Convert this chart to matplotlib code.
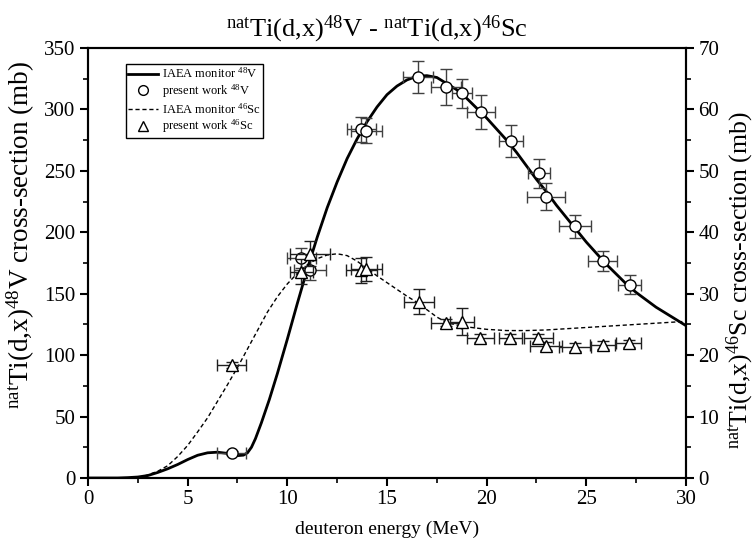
import numpy as np
import matplotlib
matplotlib.use("Agg")
from matplotlib import pyplot as plt
from matplotlib.lines import Line2D
from matplotlib.ticker import MultipleLocator

plt.rcParams['font.family'] = ['Liberation Serif', 'DejaVu Serif']
plt.rcParams['mathtext.fontset'] = 'custom'
plt.rcParams['mathtext.rm'] = 'Liberation Serif'
plt.rcParams['mathtext.it'] = 'Liberation Serif:italic'

# IAEA monitor curve natTi(d,x)48V (mb)
v48_curve_e = [0, 1.5, 2.0, 2.5, 3.0, 3.5, 4.0, 4.5, 5.0, 5.5, 6.0, 6.5, 7.0, 7.5, 7.8,
               8.0, 8.2, 8.4, 8.7, 9.1, 9.5, 10.0, 10.5, 11.0, 11.5, 12.0, 12.5, 13.0,
               13.5, 14.0, 14.5, 15.0, 15.5, 16.0, 16.5, 17.0, 17.5, 18.0, 18.5, 19.0,
               19.5, 20.0, 20.5, 21.0, 21.5, 22.0, 22.5, 23.0, 23.5, 24.0, 24.5, 25.0,
               25.5, 26.0, 26.5, 27.0, 27.5, 28.0, 28.5, 29.0, 29.5, 30.0]
v48_curve_xs = [0, 0, 0.3, 0.8, 2.0, 4.5, 7.5, 11, 15, 18.5, 20.5, 21, 20, 18.2, 18.6,
                20.5, 25, 32, 45, 64, 85, 113, 142, 170, 196, 220, 241, 260,
                276, 290, 302, 312, 319, 324, 327, 327.5, 326, 321, 316, 309,
                301, 293, 284, 275, 265, 254, 243, 233, 222, 212, 202, 192,
                183, 174, 166, 158, 151, 145, 139, 134, 129, 124]

# IAEA monitor curve natTi(d,x)46Sc (mb)
sc46_curve_e = [2.5, 3.0, 3.5, 4.0, 4.5, 5.0, 5.5, 6.0, 6.5, 7.0, 7.5, 8.0, 8.5, 9.0,
                9.5, 10.0, 10.5, 11.0, 11.5, 12.0, 12.5, 13.0, 13.5, 14.0, 14.5, 15.0,
                15.5, 16.0, 16.5, 17.0, 17.5, 18.0, 18.5, 19.0, 19.5, 20.0, 20.5, 21.0,
                22.0, 23.0, 24.0, 25.0, 26.0, 27.0, 28.0, 29.0, 30.0]
sc46_curve_xs = [0, 0.5, 1.1, 2.0, 3.5, 5.3, 7.5, 9.8, 12.5, 15.2, 18.0, 21.0, 24.0, 27.0,
                 29.5, 31.6, 33.3, 34.7, 35.7, 36.3, 36.5, 36.2, 35.3, 34.1, 32.9, 31.8,
                 30.7, 29.6, 28.6, 27.4, 26.2, 25.3, 24.9, 24.6, 24.4, 24.2, 24.1, 24.0,
                 24.0, 24.1, 24.3, 24.5, 24.7, 24.9, 25.1, 25.3, 25.5]

# present work 48V
v48_e = [7.2, 10.71, 11.13, 13.72, 13.97, 16.56, 17.98, 18.78, 19.7, 21.2, 22.62, 22.99, 24.43, 25.83, 27.17]
v48_xs = [20.6, 179.3, 169.3, 283.8, 282.7, 326.6, 318.5, 313, 298, 274.5, 248, 229, 204.8, 176.6, 157.4]
v48_de = [0.72, 0.75, 0.8, 0.75, 0.8, 0.75, 0.75, 0.5, 0.7, 0.6, 0.55, 0.95, 0.82, 0.73, 0.56]
v48_dxs = [1.5, 8, 8, 10, 10, 13, 14.5, 11.5, 14, 13, 12, 10.8, 9.5, 8.1, 7.5]

# present work 46Sc
sc46_e = [7.2, 10.71, 11.13, 13.72, 13.97, 16.59, 17.98, 18.78, 19.68, 21.19, 22.6, 22.99, 24.41, 25.83, 27.13]
sc46_xs = [18.4, 33.6, 36.5, 33.8, 34.0, 28.7, 25.3, 25.4, 22.8, 22.8, 22.8, 21.5, 21.3, 21.65, 21.9]
sc46_de = [0.72, 0.6, 1.0, 0.8, 0.8, 0.75, 0.75, 0.6, 0.67, 0.58, 0.75, 0.8, 0.8, 0.63, 0.63]
sc46_dxs = [0.5, 2.0, 2.0, 2.0, 2.0, 2.0, 0.6, 2.2, 0.6, 0.6, 0.6, 0.6, 0.6, 0.6, 0.6]

fig = plt.figure(figsize=(7.56, 5.51), dpi=100)
ax = fig.add_axes([0.1164, 0.1325, 0.791, 0.7804])
ax2 = ax.twinx()

ax.plot(v48_curve_e, v48_curve_xs, color='black', lw=2, zorder=2)
ax.errorbar(v48_e, v48_xs, xerr=v48_de, yerr=v48_dxs, fmt='o', ms=8,
            mfc='white', mec='black', mew=1, ecolor='#404040', elinewidth=1,
            capsize=4, capthick=1, zorder=3)

ax2.plot(sc46_curve_e, sc46_curve_xs, color='black', lw=1, ls=(0, (3, 2)), zorder=2)
ax2.errorbar(sc46_e, sc46_xs, xerr=sc46_de, yerr=sc46_dxs, fmt='^', ms=8,
             mfc='white', mec='black', mew=1, ecolor='#202020', elinewidth=1,
             capsize=4, capthick=1, zorder=3)

ax.set_xlim(0, 30)
ax.set_ylim(0, 350)
ax2.set_ylim(0, 70)

ax.xaxis.set_major_locator(MultipleLocator(5))
ax.xaxis.set_minor_locator(MultipleLocator(2.5))
ax.yaxis.set_major_locator(MultipleLocator(50))
ax.yaxis.set_minor_locator(MultipleLocator(25))
ax2.yaxis.set_major_locator(MultipleLocator(10))
ax2.yaxis.set_minor_locator(MultipleLocator(5))

for a in (ax, ax2):
    for s in a.spines.values():
        s.set_linewidth(1.5)
    a.tick_params(which='major', direction='out', length=6, width=1.5, labelsize=15, pad=3)
    a.tick_params(which='minor', direction='out', length=3.5, width=1.2)
ax.tick_params(axis='x', which='both', top=False)

ax.set_xlabel('deuteron energy (MeV)', fontsize=14, labelpad=8)
ax.set_ylabel(r'$^{\mathrm{nat}}$Ti(d,x)$^{48}$V cross-section (mb)', fontsize=19.5)
ax.yaxis.set_label_coords(-0.085, 0.565)
ax2.set_ylabel(r'$^{\mathrm{nat}}$Ti(d,x)$^{46}$Sc cross-section (mb)', fontsize=18.5,
               rotation=90)
ax2.yaxis.set_label_coords(1.064, 0.46)
fig.text(0.498, 0.975, r'$^{\mathrm{nat}}$Ti(d,x)$^{48}$V - $^{\mathrm{nat}}$Ti(d,x)$^{46}$Sc',
         fontsize=19, ha='center', va='top')

handles = [
    Line2D([], [], color='black', lw=2),
    Line2D([], [], ls='none', marker='o', ms=7, mfc='white', mec='black'),
    Line2D([], [], color='black', lw=1, ls=(0, (3, 2))),
    Line2D([], [], ls='none', marker='^', ms=7, mfc='white', mec='black'),
]
labels = [r'IAEA monitor $^{48}$V', r'present work $^{48}$V',
          r'IAEA monitor $^{46}$Sc', r'present work $^{46}$Sc']
leg = ax2.legend(handles, labels, loc='upper left', bbox_to_anchor=(0.063, 0.963),
                 fontsize=9, frameon=True, fancybox=False, edgecolor='black',
                 framealpha=1, borderpad=0.2, labelspacing=0.12, handlelength=2.4,
                 handletextpad=0.3, borderaxespad=0)
leg.get_frame().set_linewidth(1)

fig.savefig('out.png', dpi=100)
